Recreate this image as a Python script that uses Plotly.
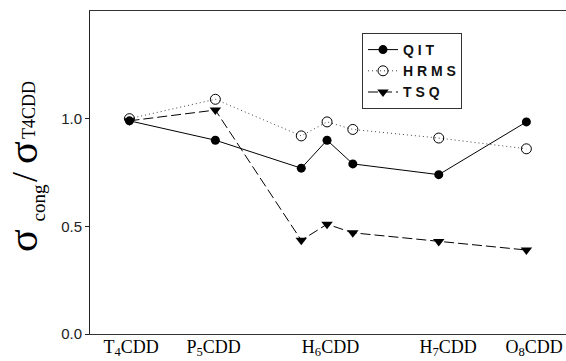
import plotly.graph_objects as go

# ---- data ----
congener_x = [1, 2, 3, 3.3, 3.6, 4.6, 5.62]
qit = [0.99, 0.90, 0.77, 0.90, 0.79, 0.74, 0.985]
hrms = [1.00, 1.09, 0.92, 0.985, 0.95, 0.91, 0.86]
tsq = [0.99, 1.04, 0.435, 0.51, 0.47, 0.43, 0.39]
tick_labels = ["T<sub>4</sub>CDD", "P<sub>5</sub>CDD", "H<sub>6</sub>CDD",
               "H<sub>7</sub>CDD", "O<sub>8</sub>CDD"]
tick_pos = [1.02, 1.98, 3.34, 4.71, 5.71]
series_names = ["Q I T", "H R M S", "T S Q"]

W, H = 566, 361
L, R, T, B = 90, 0, 11, 27
PW, PH = W - L - R, H - T - B

def px(xp):
    return (xp - L) / PW

def py(yp):
    return (H - B - yp) / PH

fig = go.Figure()
fig.add_trace(go.Scatter(
    x=congener_x, y=qit, name=series_names[0], mode="lines+markers",
    line=dict(color="black", width=1),
    marker=dict(symbol="circle", size=9, color="black")))
fig.add_trace(go.Scatter(
    x=congener_x, y=hrms, name=series_names[1], mode="lines+markers",
    line=dict(color="#444", width=1, dash="1px,3px"),
    marker=dict(symbol="circle-open", size=10, color="black", line=dict(width=1))))
fig.add_trace(go.Scatter(
    x=congener_x, y=tsq, name=series_names[2], mode="lines+markers",
    line=dict(color="black", width=1, dash="10px,4px"),
    marker=dict(symbol="triangle-down", size=10, color="black")))

serif = "Liberation Serif, Times New Roman, serif"
sans = "Liberation Sans, Arial, sans-serif"

fig.update_layout(
    width=W, height=H, template="none",
    margin=dict(l=L, r=R, t=T, b=B, pad=0),
    paper_bgcolor="white", plot_bgcolor="white",
    showlegend=True,
    legend=dict(x=px(362), y=py(33), xanchor="left", yanchor="top",
                bgcolor="white", bordercolor="#333", borderwidth=1,
                font=dict(family=sans, size=14, color="#111", weight="bold"),
                tracegroupgap=0),
    xaxis=dict(range=[0.541, 6.081], showgrid=False, zeroline=False,
               showline=True, linecolor="#333", linewidth=1, mirror=True,
               ticks="", tickmode="array", tickvals=tick_pos, ticktext=tick_labels,
               ticklabelstandoff=-4,
               tickfont=dict(family=serif, size=18, color="black")),
    yaxis=dict(range=[0, 1.5], showgrid=False, zeroline=False,
               showline=True, linecolor="#222", linewidth=1,
               ticks="outside", ticklen=4, tickwidth=1, tickcolor="#222",
               tickmode="array", tickvals=[0, 0.5, 1.0],
               ticktext=["0.0", "0.5", "1.0"],
               tickfont=dict(family=sans, size=15, color="#222")),
)

# y-axis title built from pieces
pieces = [
    ("σ", 42, 23, 241),
    ("cong", 19, 37.5, 203),
    ("/", 36, 25, 177),
    ("σ", 42, 23, 153),
    ("T4CDD", 18, 29, 110),
]
for txt, size, cx, cy in pieces:
    fig.add_annotation(text=txt, xref="paper", yref="paper",
                       x=px(cx), y=py(cy), xanchor="center", yanchor="middle",
                       textangle=-90, showarrow=False,
                       font=dict(family=serif, size=size, color="black"))

fig.write_html("out.html")
